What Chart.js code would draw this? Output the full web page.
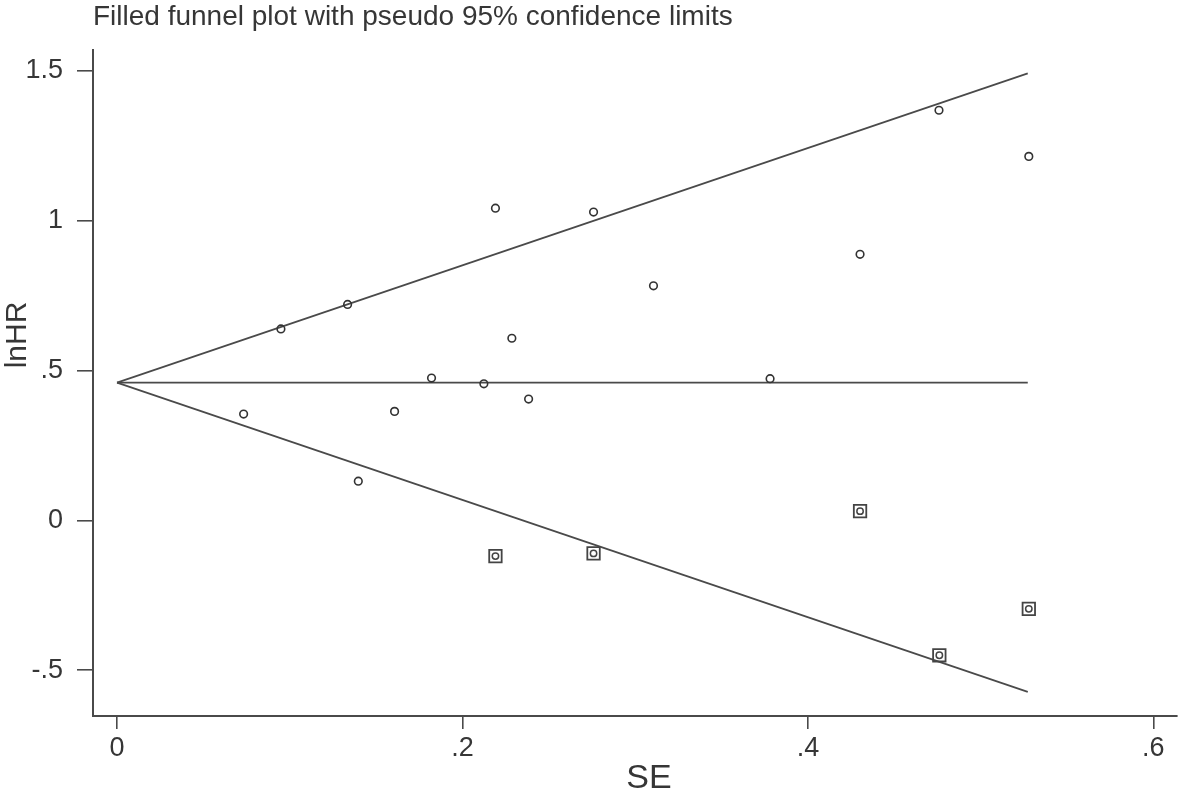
<!DOCTYPE html>
<html>
<head>
<meta charset="utf-8">
<script src="https://cdn.jsdelivr.net/npm/chart.js@4.4.0/dist/chart.umd.min.js"></script>
<style>
  html, body { margin: 0; padding: 0; background: #ffffff; }
  #wrap { width: 1181px; height: 794px; }
</style>
</head>
<body>
<div id="wrap"><canvas id="c" width="1181" height="794"></canvas></div>
<script>
// ---- Data ----
const chartTitle = "Filled funnel plot with pseudo 95% confidence limits";
const xAxisTitle = "SE";
const yAxisTitle = "lnHR";

// Observed studies (hollow circles)
const seObserved   = [0.0733, 0.0949, 0.1335, 0.1397, 0.1607, 0.1821, 0.2124, 0.2191, 0.2286, 0.2383, 0.2759, 0.3106, 0.3781, 0.4302, 0.4759, 0.5279];
const lnhrObserved = [0.355, 0.639, 0.721, 0.131, 0.364, 0.475, 0.456, 1.042, 0.608, 0.405, 1.029, 0.783, 0.473, 0.888, 1.369, 1.215];

// Filled (imputed) studies (boxed markers)
const seFilled   = [0.2191, 0.2759, 0.4302, 0.4761, 0.5279];
const lnhrFilled = [-0.119, -0.110, 0.031, -0.450, -0.295];

// Pseudo 95% confidence limits and pooled estimate
const limitSE    = [0, 0.5273];
const upperLimit = [0.46, 1.492];
const lowerLimit = [0.46, -0.572];
const pooledLine = [0.46, 0.46];

// Tick values
const xTickValues = [0, 0.2, 0.4, 0.6];
const yTickValues = [-0.5, 0, 0.5, 1, 1.5];

// ---- Helpers ----
const zip = (xs, ys) => xs.map((x, i) => ({ x: x, y: ys[i] }));
const fmt = v => {
  if (Math.abs(v) < 1e-9) return '0';
  const s = String(Math.round(v * 1000) / 1000);
  return s.replace(/^(-?)0\./, '$1.');
};

const ink = '#363636';
const lineInk = '#4a4a4a';
const fontFam = '"Liberation Sans", Arial, Helvetica, sans-serif';

const textPlugin = {
  id: 'stataText',
  afterDraw(chart) {
    const ctx = chart.ctx;
    ctx.save();
    ctx.fillStyle = ink;
    // Title
    ctx.font = '28px ' + fontFam;
    ctx.textAlign = 'left';
    ctx.textBaseline = 'alphabetic';
    ctx.fillText(chartTitle, 93, 25);
    // X axis title
    ctx.font = '34px ' + fontFam;
    ctx.textAlign = 'center';
    ctx.fillText(xAxisTitle, 649, 788);
    // Y axis title (rotated)
    ctx.translate(26, 335);
    ctx.rotate(-Math.PI / 2);
    ctx.font = '30px ' + fontFam;
    ctx.textAlign = 'center';
    ctx.fillText(yAxisTitle, 0, 0);
    ctx.restore();
  }
};

new Chart(document.getElementById('c'), {
  type: 'scatter',
  data: {
    datasets: [
      {
        label: 'Upper limit',
        type: 'line',
        data: zip(limitSE, upperLimit),
        borderColor: lineInk, borderWidth: 1.7, pointRadius: 0, fill: false, order: 5
      },
      {
        label: 'Pooled',
        type: 'line',
        data: zip(limitSE, pooledLine),
        borderColor: lineInk, borderWidth: 1.7, pointRadius: 0, fill: false, order: 5
      },
      {
        label: 'Lower limit',
        type: 'line',
        data: zip(limitSE, lowerLimit),
        borderColor: lineInk, borderWidth: 1.7, pointRadius: 0, fill: false, order: 5
      },
      {
        label: 'Observed',
        data: zip(seObserved, lnhrObserved),
        pointStyle: 'circle', pointRadius: 3.8, borderWidth: 1.6,
        borderColor: '#333333', backgroundColor: 'rgba(255,255,255,0)', order: 1
      },
      {
        label: 'Filled box',
        data: zip(seFilled, lnhrFilled),
        pointStyle: 'rect', pointRadius: 8.8, borderWidth: 1.8,
        borderColor: '#444444', backgroundColor: 'rgba(255,255,255,0)', order: 2
      },
      {
        label: 'Filled circle',
        data: zip(seFilled, lnhrFilled),
        pointStyle: 'circle', pointRadius: 3.2, borderWidth: 1.5,
        borderColor: '#444444', backgroundColor: 'rgba(255,255,255,0)', order: 1
      }
    ]
  },
  options: {
    responsive: false,
    animation: false,
    devicePixelRatio: 1,
    layout: { autoPadding: false, padding: { top: 50, right: 4, left: 0, bottom: 0 } },
    plugins: {
      legend: { display: false },
      title: { display: false },
      tooltip: { enabled: false }
    },
    scales: {
      x: {
        type: 'linear',
        position: 'bottom',
        min: -0.0139,
        max: 0.6137,
        afterBuildTicks: s => { s.ticks = xTickValues.map(v => ({ value: v })); },
        afterFit: s => { s.height = 78; s.paddingLeft = 0; s.paddingRight = 0; },
        ticks: {
          callback: v => fmt(v),
          font: { size: 27, family: fontFam },
          color: ink,
          padding: 3,
          maxRotation: 0,
          autoSkip: false
        },
        grid: { drawOnChartArea: false, drawTicks: true, tickLength: 13, color: lineInk, lineWidth: 1.6 },
        border: { display: true, color: lineInk, width: 2 }
      },
      y: {
        type: 'linear',
        position: 'left',
        min: -0.6526,
        max: 1.570,
        afterBuildTicks: s => { s.ticks = yTickValues.map(v => ({ value: v })); },
        afterFit: s => { s.width = 93; s.paddingTop = 0; s.paddingBottom = 0; },
        ticks: {
          callback: v => fmt(v),
          font: { size: 27, family: fontFam },
          color: ink,
          padding: 14,
          autoSkip: false
        },
        grid: { drawOnChartArea: false, drawTicks: true, tickLength: 16, color: lineInk, lineWidth: 1.6 },
        border: { display: true, color: lineInk, width: 2 }
      }
    }
  },
  plugins: [textPlugin]
});
</script>
</body>
</html>
